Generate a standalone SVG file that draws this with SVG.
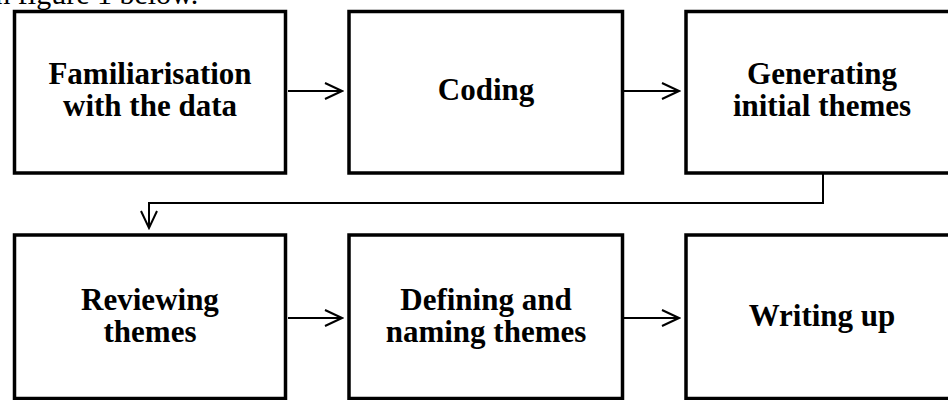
<svg xmlns="http://www.w3.org/2000/svg" width="948" height="400" viewBox="0 0 948 400">
<style>
.box{fill:#fff;stroke:#000;stroke-width:3.5}
.lbl{font-family:"Liberation Serif","Times New Roman",serif;font-weight:bold;font-size:31px;text-anchor:middle;fill:#000}
.cap{font-family:"Liberation Serif","Times New Roman",serif;font-size:30px;fill:#000}
.conn{fill:none;stroke:#000;stroke-width:2}
</style>
<defs>
<marker id="arr" markerWidth="20" markerHeight="20" refX="18" refY="9" orient="auto" markerUnits="userSpaceOnUse" viewBox="0 0 20 18">
<path d="M1,1 L18,9 L1,17" fill="none" stroke="#000" stroke-width="2"/>
</marker>
</defs>
<rect width="948" height="400" fill="#fff"/>
<text class="cap" x="-13" y="4">in figure 1 below.</text>
<g id="connectors">
<line class="conn" x1="288" y1="91" x2="342" y2="91" marker-end="url(#arr)"/>
<line class="conn" x1="624" y1="91" x2="679" y2="91" marker-end="url(#arr)"/>
<polyline class="conn" points="823,174 823,203 149,203 149,228" marker-end="url(#arr)"/>
<line class="conn" x1="288" y1="318" x2="342" y2="318" marker-end="url(#arr)"/>
<line class="conn" x1="624" y1="318" x2="679" y2="318" marker-end="url(#arr)"/>
</g>
<g id="n1"><rect class="box" x="14.5" y="11.5" width="271" height="161.5"/>
<text class="lbl" x="150" y="84">Familiarisation<tspan x="150" dy="32">with the data</tspan></text></g>
<g id="n2"><rect class="box" x="349" y="11.5" width="273.5" height="161.5"/>
<text class="lbl" x="486" y="100">Coding</text></g>
<g id="n3"><rect class="box" x="686" y="11.5" width="272" height="161.5"/>
<text class="lbl" x="822" y="84">Generating<tspan x="822" dy="32">initial themes</tspan></text></g>
<g id="n4"><rect class="box" x="14.5" y="235" width="271" height="163.5"/>
<text class="lbl" x="150" y="310">Reviewing<tspan x="150" dy="32">themes</tspan></text></g>
<g id="n5"><rect class="box" x="349" y="235" width="273.5" height="163.5"/>
<text class="lbl" x="486" y="310">Defining and<tspan x="486" dy="32">naming themes</tspan></text></g>
<g id="n6"><rect class="box" x="686" y="235" width="272" height="163.5"/>
<text class="lbl" x="822" y="326">Writing up</text></g>
</svg>
